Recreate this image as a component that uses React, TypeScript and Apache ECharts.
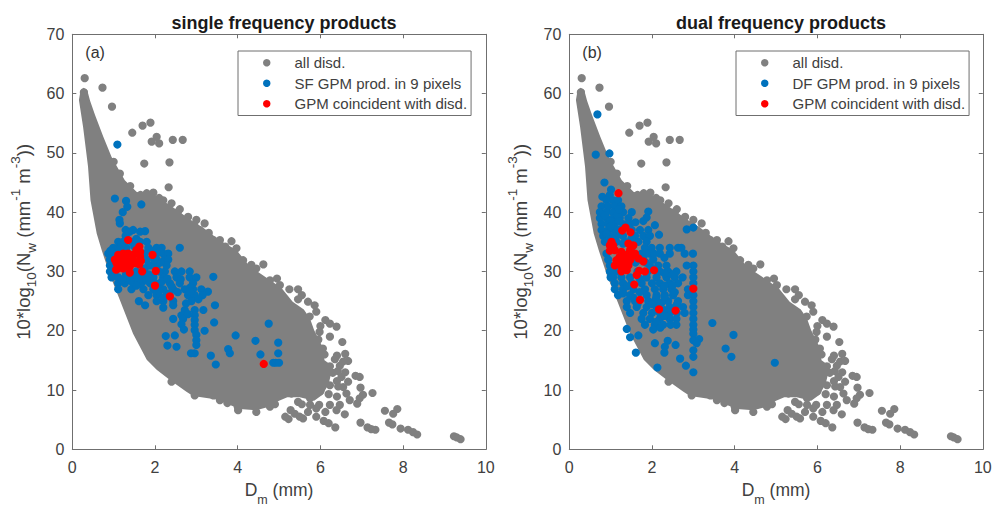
import React, { useEffect, useRef } from "react";
import * as echarts from "echarts";

const xTicks = [0, 2, 4, 6, 8, 10];
const yTicks = [0, 10, 20, 30, 40, 50, 60, 70];
const panelTitles = ["single frequency products", "dual frequency products"];
const panelTags = ["(a)", "(b)"];
const allName = "all disd.";
const sfName = "SF GPM prod. in 9 pixels";
const dfName = "DF GPM prod. in 9 pixels";
const redName = "GPM coincident with disd.";

// outline of the solid body of the disdrometer cloud [Dm, 10log10Nw]
const cloudOutline = [
  [0.27, 61], [0.36, 60.6], [0.43, 58.8], [0.55, 56.4], [0.75, 52.7], [0.95, 49.3], [1.27, 45.4], [1.56, 43.4],
  [2.0, 42.8], [2.4, 41], [2.84, 38.8], [3.2, 37.2], [3.57, 35.2], [3.97, 33.6], [4.3, 30.8], [4.6, 29.4],
  [5.06, 27.2], [5.33, 24.9], [5.6, 23.6], [5.75, 22.0], [5.85, 20.1], [6.05, 17.3], [6.1, 15], [6.3, 14], [6.2, 11],
  [6.05, 9.2], [5.85, 8.2], [5.5, 8.8], [5.2, 8.8], [5.0, 8.2], [4.78, 7.2], [4.45, 6.6], [4.05, 6.8], [3.49, 8.4], [2.92, 9.0],
  [2.76, 9.7], [2.36, 11.7], [2.04, 13.4], [1.8, 15.1], [1.47, 19.5], [1.15, 25.2], [0.91, 29.4], [0.71, 33.6], [0.59, 36.4], [0.44, 42],
  [0.38, 47.7], [0.26, 54.4], [0.16, 58.9], [0.2, 60.5],
];

const allDisd = [
  [0.3, 62.6], [0.73, 61], [0.96, 57.8], [1.45, 53.4], [1.7, 54.6], [1.89, 55.1], [2.04, 52.7], [1.92, 51.9], [2.1, 51.6],
  [2.43, 52.2], [2.67, 52.2], [1.74, 48.2], [2.35, 48.4], [2.33, 44.2], [1.96, 43.3], [1.8, 43.2], [2.2, 42], [2.4, 41.5],
  [2.6, 40.5], [2.8, 39.2], [3.0, 38.7], [3.2, 38.1], [3.08, 37], [3.57, 35.3], [3.85, 35.1], [3.97, 33.9], [3.41, 35.3],
  [4.62, 31.2], [4.13, 31.9], [4.33, 31.1], [4.78, 28.5], [5.02, 27.7], [5.46, 27], [5.46, 25.3], [5.7, 24.9], [5.86, 24.3],
  [5.74, 22.4], [6.12, 21.8], [6.23, 21.2], [6.39, 20.7], [5.98, 19.8], [6.23, 19], [6.53, 18.1], [6.06, 17], [6.6, 16.1],
  [6.55, 14.8], [6.67, 14.9], [6.47, 14.1], [6.23, 14], [5.98, 15], [6.85, 12.4], [6.95, 12.2], [6.51, 12.2], [6.67, 11.4],
  [6.97, 10.4], [7.03, 9.2], [7.26, 9.5], [6.95, 8.6], [6.89, 7.7], [6.63, 9.4], [6.71, 8.3], [6.43, 10.6], [6.23, 10.8],
  [6.47, 7.5], [6.23, 7.5], [6.39, 6.6], [6.59, 5.9], [6.12, 6.3], [5.97, 7.5], [5.9, 6.9], [5.7, 6.3], [5.9, 5.5],
  [6.08, 4.8], [6.2, 4.4], [6.36, 3.7], [5.28, 6.6], [5.38, 6], [5.5, 5.5], [5.58, 5.2], [5.15, 5.5], [5.23, 5.1],
  [5.46, 8], [5.3, 9.4], [4.78, 7.2], [4.45, 6.3], [4.44, 7.2], [4.01, 6.6], [4.21, 7.7], [7.56, 6.5], [7.86, 6.8],
  [7.76, 6], [6.97, 4.5], [7.14, 3.7], [7.23, 3.4], [7.33, 3.3], [7.66, 4.5], [7.74, 4.2], [7.94, 3.5], [8.12, 3.3],
  [8.24, 2.9], [8.34, 2.5], [9.23, 2.2], [9.3, 2], [9.39, 1.7], [6.1, 12.5], [6.3, 12.9], [6.1, 11.2], [6.0, 9.8], [5.75, 8.6],
  [5.55, 7.6], [6.1, 16], [5.95, 18.5], [6.4, 15.8], [6.2, 13], [0.28, 60.2], [6.0, 20.8], [5.9, 23.2], [5.55, 26], [5.25, 27],
  [4.95, 28.8], [4.45, 30.5], [3.7, 34.2], [3.3, 36.5], [2.95, 37.8], [2.55, 40], [2.1, 42.4], [1.65, 42.9], [1.4, 44.4],
  [1.15, 46.5], [1.0, 48.5], [6.35, 15.2], [6.42, 13.2], [6.6, 13], [6.4, 11.5], [6.2, 9.3], [6.4, 8.9], [6.55, 10.5], [4.9, 7.6],
  [5.75, 7.5], [2.4, 11.4], [2.96, 9.1], [3.41, 9.1], [3.57, 8.3], [4.0, 7.2], [3.75, 7.8],
];

const sfBlue = [
  [1.09, 51.4], [1.03, 42.3], [1.3, 41.9], [1.33, 40.9], [1.67, 41.3], [1.22, 40], [1.14, 38.7], [1.15, 38.1], [1.29, 37], [1.47, 37],
  [1.39, 36.7], [1.76, 36.8], [1.64, 36.7], [1.29, 36], [1.11, 35], [1.23, 35], [1.43, 35], [1.64, 35], [1.8, 35], [0.99, 34],
  [1.11, 34], [1.31, 34], [1.84, 34], [2.04, 34], [2.16, 34], [2.6, 34], [0.87, 33], [0.99, 33], [2.04, 33], [2.2, 33],
  [2.32, 33], [0.91, 32], [1.8, 32], [2.04, 32], [2.24, 32], [2.32, 32], [0.91, 31], [1.84, 31], [2.04, 31], [2.28, 31],
  [0.91, 30], [1.03, 30], [1.55, 30], [2.24, 30], [2.48, 30], [2.64, 30], [2.84, 30], [0.95, 29], [1.11, 29], [1.31, 29],
  [1.51, 29], [1.71, 29], [1.96, 29], [2.2, 29], [2.52, 29], [2.84, 29], [3.0, 29], [3.41, 29.1], [1.11, 28], [1.27, 28],
  [1.47, 28], [1.67, 28], [1.88, 28], [2.12, 28], [2.36, 28], [2.6, 28], [2.92, 28], [1.11, 27], [1.43, 27], [1.72, 27],
  [1.96, 27], [2.2, 27], [2.44, 27], [2.72, 27], [2.92, 27], [3.12, 27], [3.28, 26.6], [1.84, 26], [2.04, 26], [2.28, 26],
  [2.8, 26], [2.96, 26], [3.15, 26], [1.61, 25], [1.76, 24.3], [2.04, 25], [2.2, 25], [2.44, 25], [2.88, 25], [3.45, 24.3],
  [3.17, 23.5], [2.96, 23.5], [2.72, 23.5], [2.2, 23.9], [2.44, 24.3], [2.64, 22.6], [2.96, 22.6], [2.44, 22], [2.68, 22], [2.96, 21.8],
  [3.43, 21.4], [2.64, 21.1], [2.96, 21], [2.7, 20.2], [2.96, 20.1], [3.2, 20], [2.48, 19.2], [2.26, 19.1], [3, 19.3], [3, 18.4],
  [3, 17.6], [2.3, 17.5], [2.52, 17.3], [2.96, 16.2], [2.87, 16.2], [3.35, 15.8], [3.47, 14.3], [3.77, 16.9], [3.81, 16.2], [3.95, 19.2],
  [4.43, 18.3], [4.75, 21.2], [4.98, 18], [4.55, 16], [4.98, 16.2], [4.86, 14.6], [4.92, 14.6], [5.0, 14.6], [1.2, 34.5], [1.5, 34.2],
  [1.75, 33], [1.9, 33.5], [1.3, 29.5], [1.6, 29.7], [1.85, 29.5], [1.75, 30.5], [2.1, 30], [2.4, 27.5], [2.55, 26.5],
  [1.2, 28.6], [1.4, 28.5], [1.6, 28.5], [1.8, 28.5], [2.0, 28], [2.0, 26.8], [1.55, 27.6], [2.13, 31.5], [2.17, 28.3], [2.3, 28.8],
  [2.1, 26.7], [2.35, 26.3], [2.2, 25.6], [2.62, 28.7], [2.85, 27.3], [2.85, 26.6], [3.05, 25.3], [2.75, 24.6], [2.8, 22.8], [1.0, 30.8],
  [0.96, 30.4], [1.55, 35.5], [0.92, 33.5], [1.15, 33.7], [1.9, 31], [1.98, 32], [2.1, 33.3],
];

const sfRed = [
  [1.35, 35.3], [1.94, 32.8], [2.02, 30.1], [1.69, 30], [2, 27.6], [2.36, 25.8], [4.63, 14.4], [1.39, 29.8], [1.62, 34.2], [1.55, 33.6],
  [1.64, 33.3], [1.35, 33], [1.23, 33], [1.11, 32.8], [1.47, 32.8], [1.64, 32.5], [1.03, 32], [1.15, 32], [1.31, 32], [1.47, 32],
  [1.66, 31.8], [1.07, 31.4], [1.19, 31.4], [1.35, 31.4], [1.51, 31.4], [1.11, 30.5], [1.23, 30.5], [1.06, 30.3], [1.39, 30.8], [1.62, 31.2],
];

const dfBlue = [
  [0.68, 56.5], [0.64, 49.7], [0.97, 49.9], [0.85, 45], [1.01, 43.8], [0.8, 42.6], [0.98, 42.9], [0.9, 42], [1.06, 42], [1.18, 42],
  [0.78, 41], [0.94, 41], [1.1, 41], [1.26, 41], [0.74, 40], [0.9, 40], [1.06, 40], [1.3, 40], [1.51, 40], [1.91, 40.1],
  [0.74, 39], [0.9, 39], [1.06, 39], [1.22, 39], [1.43, 39], [1.87, 39.1], [1.79, 38.5], [0.78, 38], [0.94, 38], [1.1, 38],
  [1.3, 38], [1.47, 38], [2.07, 37.8], [2.84, 37.1], [3, 37.4], [0.78, 37], [0.94, 37], [1.1, 37], [1.51, 37], [1.71, 37],
  [1.91, 37], [2.17, 36.2], [0.82, 36], [0.98, 36], [1.14, 36], [1.59, 36], [1.79, 36], [1.95, 36], [0.86, 35], [1.14, 35],
  [1.67, 35], [1.87, 35], [1.83, 34], [1.99, 34], [2.19, 34], [2.43, 34], [2.63, 34], [2.71, 34], [0.9, 33], [1.75, 33],
  [1.95, 33], [2.19, 33], [2.43, 33], [2.79, 33], [2.99, 33], [0.94, 32], [1.79, 32], [2.03, 32], [0.98, 31], [1.95, 31],
  [2.15, 31], [2.35, 31], [2.84, 31], [3, 31], [0.98, 30], [1.14, 30], [2.19, 30], [2.39, 30], [2.59, 30], [3, 30],
  [1.06, 29], [1.26, 29], [1.47, 29], [1.87, 29], [2.11, 29], [2.35, 29], [2.55, 29], [2.74, 29], [3, 29], [1.1, 28],
  [1.3, 28], [1.51, 28], [1.75, 28], [2, 28], [2.19, 28], [2.43, 28], [2.63, 28], [3, 28], [1.1, 27], [1.3, 27],
  [1.55, 27], [1.83, 27], [2.07, 27], [2.27, 27], [2.47, 27], [2.87, 27], [1.18, 26], [1.47, 26], [1.87, 26], [2.11, 26],
  [2.31, 26], [2.51, 26], [2.87, 26], [3, 26], [1.39, 25], [1.59, 25], [1.91, 25], [2.07, 25], [2.39, 25], [2.63, 25],
  [3, 25], [1.39, 24], [1.63, 24], [1.87, 24], [2.11, 24], [2.43, 24], [2.75, 24], [3, 24], [1.47, 23], [1.79, 23],
  [2, 23], [2.19, 23], [2.43, 23], [2.79, 23], [3, 23], [1.75, 22], [1.95, 22], [2.19, 22], [2.43, 22], [2.59, 22],
  [3, 22], [1.83, 21], [2.07, 21], [2.27, 21], [2.59, 21], [3, 21], [3.46, 21.3], [1.39, 20.3], [2.03, 20.2], [3, 20.2],
  [1.47, 18.9], [1.67, 19.2], [2.07, 17.9], [2.38, 18.3], [2.57, 17.6], [2.31, 17.3], [2.3, 16.3], [1.61, 16.3], [3, 19.5], [3, 18.4],
  [3.14, 18.6], [3.08, 17.9], [3, 16.7], [3, 15.6], [2.68, 15.3], [2.82, 14.1], [2.13, 13.8], [3, 13], [3.78, 17], [3.92, 15.6],
  [3.97, 19.3], [4.97, 14.6], [1.2, 37], [1.35, 35], [1.5, 35.5], [1.65, 30], [1.9, 30], [1.7, 32], [1.0, 29], [1.3, 36],
  [0.86, 39.5], [1.0, 38.5], [1.0, 37.6], [1.17, 39.5], [1.2, 38.5], [1.2, 40.5], [1.4, 37.8], [1.6, 38.3], [0.9, 36.4], [1.05, 35.5],
  [1.3, 34.7], [1.5, 34], [1.6, 31.5], [1.85, 31.5], [1.85, 33], [2.05, 33], [2.3, 32.3], [2.1, 30.3], [2.3, 29.7], [2.5, 29.5],
  [2.5, 27.7], [2.3, 27.6], [2.1, 25.5], [2.23, 24.7], [2.3, 25.7], [2.55, 26.5], [2.6, 24.4], [1.7, 26.5], [1.55, 25.6], [1.3, 26.3],
  [1.4, 27.5], [1.7, 28.8], [1.65, 24.5], [2.0, 24.5], [2.3, 23.5], [2.6, 23], [2.3, 22.5], [2.1, 21.5], [2.45, 21], [2.2, 20.5],
];

const dfRed = [
  [1.19, 43.2], [1.36, 37.4], [1.28, 36.9], [1.48, 36.6], [1.43, 34.7], [1.55, 34.4], [1.02, 35], [0.98, 34.4], [1.06, 34.4], [0.98, 33.5],
  [1.1, 33.6], [1.26, 33.3], [1.47, 33.6], [1.59, 33], [1.22, 32.5], [1.39, 32.8], [1.67, 32.2], [1.79, 31.7], [1.14, 31.9], [1.3, 31.6],
  [1.47, 31.9], [1.1, 31], [1.26, 30.8], [1.43, 31], [1.26, 30], [1.39, 30.2], [2.05, 30.2], [1.83, 30], [1.69, 30.1], [1.63, 29.4],
  [1.57, 27.8], [1.71, 25.2], [2.17, 23.6], [2.57, 23.4], [3, 27.1], [1.2, 31.3], [1.35, 32.2], [1.5, 32.5],
];

const GRAY = "#808080";
const BLUE = "#0072BD";
const RED = "#FF0000";
const INK = "#404040";
const FRAME = "#6f6f6f";
const FONT = "'Liberation Sans', Arial, sans-serif";

const panels = [
  { left: 72.3, legendLeft: 238, blueName: sfName, blue: sfBlue, red: sfRed },
  { left: 569.3, legendLeft: 736, blueName: dfName, blue: dfBlue, red: dfRed },
];
const plotW = 413.5;
const plotH = 415;
const plotTop = 34.3;

function buildOption() {
  const grid: any[] = [];
  const xAxis: any[] = [];
  const yAxis: any[] = [];
  const series: any[] = [];
  const legend: any[] = [];
  const title: any[] = [];
  const graphic: any[] = [];

  panels.forEach((p, i) => {
    grid.push({ left: p.left, top: plotTop, width: plotW, height: plotH, containLabel: false, outerBoundsMode: "none" });
    const xBase = {
      gridIndex: i, type: "value", min: 0, max: 10, interval: 2,
      axisLine: { show: true, onZero: false, lineStyle: { color: FRAME, width: 1 } },
      axisTick: { show: true, inside: true, length: 4, lineStyle: { color: FRAME } },
      splitLine: { show: false },
    };
    const yBase = {
      gridIndex: i, type: "value", min: 0, max: 70, interval: 10,
      axisLine: { show: true, onZero: false, lineStyle: { color: FRAME, width: 1 } },
      axisTick: { show: true, inside: true, length: 4, lineStyle: { color: FRAME } },
      splitLine: { show: false },
    };
    xAxis.push({
      ...xBase, position: "bottom",
      axisLabel: { color: INK, fontSize: 16, fontFamily: FONT, margin: 10,
        formatter: (v: number) => (xTicks.includes(v) ? String(v) : "") },
      name: "{n|D}{s|m}{n| (mm)}", nameLocation: "middle", nameGap: 32,
      nameTextStyle: { rich: {
        n: { fontSize: 17.5, color: INK, fontFamily: FONT, lineHeight: 25, verticalAlign: "top" },
        s: { fontSize: 12.5, color: INK, fontFamily: FONT, lineHeight: 25, verticalAlign: "bottom" },
      } },
    });
    xAxis.push({ ...xBase, position: "top", axisLabel: { show: false } });
    yAxis.push({
      ...yBase, position: "left",
      axisLabel: { color: INK, fontSize: 16, fontFamily: FONT, margin: 8,
        formatter: (v: number) => (yTicks.includes(v) ? String(v) : "") },
      name: "{n|10*log}{s|10}{n|(N}{s|w}{n| (mm}{u|-1}{n| m}{u|-3}{n|))}",
      nameLocation: "middle", nameGap: 34,
      nameTextStyle: { rich: {
        n: { fontSize: 18.5, color: INK, fontFamily: FONT, lineHeight: 30, verticalAlign: "middle" },
        s: { fontSize: 13.5, color: INK, fontFamily: FONT, lineHeight: 30, verticalAlign: "bottom" },
        u: { fontSize: 13.5, color: INK, fontFamily: FONT, lineHeight: 30, verticalAlign: "top" },
      } },
    });
    yAxis.push({ ...yBase, position: "right", axisLabel: { show: false } });

    const xi = i * 2;
    const yi = i * 2;
    series.push({
      type: "custom", name: "cloud", xAxisIndex: xi, yAxisIndex: yi, data: cloudOutline, silent: true, z: 1,
      renderItem: (params: any, api: any) => {
        if (params.dataIndex !== 0) return null;
        return {
          type: "polygon",
          shape: { points: cloudOutline.map((c) => api.coord(c)) },
          style: { fill: GRAY },
        };
      },
    });
    const dots = (name: string, data: number[][], color: string, z: number) => ({
      type: "scatter", name, xAxisIndex: xi, yAxisIndex: yi, data, symbol: "circle", symbolSize: 8.2,
      itemStyle: { color, opacity: 1 }, silent: true, z,
    });
    series.push(dots(allName, allDisd, GRAY, 2));
    series.push(dots(p.blueName, p.blue, BLUE, 3));
    series.push(dots(redName, p.red, RED, 4));

    legend.push({
      left: p.legendLeft, top: 51, orient: "vertical", align: "left",
      padding: [3, 4, 3, 25], itemWidth: 7.5, itemHeight: 7.5, itemGap: 3,
      backgroundColor: "#fff", borderColor: FRAME, borderWidth: 1, borderRadius: 0,
      selectedMode: false, z: 10,
      textStyle: { color: INK, fontSize: 15, fontFamily: FONT, lineHeight: 17.5, padding: [0, 0, 0, 19] },
      data: [
        { name: allName, icon: "circle", itemStyle: { color: GRAY } },
        { name: p.blueName, icon: "circle", itemStyle: { color: BLUE } },
        { name: redName, icon: "circle", itemStyle: { color: RED } },
      ],
    });
    title.push({
      text: panelTitles[i], left: p.left + plotW / 2, top: 9, textAlign: "center",
      textStyle: { fontSize: 18, fontWeight: "bold", color: "#1a1a1a", fontFamily: FONT },
    });
    graphic.push({
      type: "text", x: p.left + 13, y: 44,
      style: { text: panelTags[i], fontSize: 16, fill: "#333", fontFamily: FONT },
    });
  });

  return { animation: false, backgroundColor: "#fff", grid, xAxis, yAxis, series, legend, title, graphic };
}

export default function App() {
  const ref = useRef<HTMLDivElement>(null);
  useEffect(() => {
    document.body.style.margin = "0";
    const chart = echarts.init(ref.current!, undefined, { renderer: "svg" });
    chart.setOption(buildOption() as any);
    return () => chart.dispose();
  }, []);
  return <div ref={ref} style={{ width: 993, height: 507 }} />;
}
